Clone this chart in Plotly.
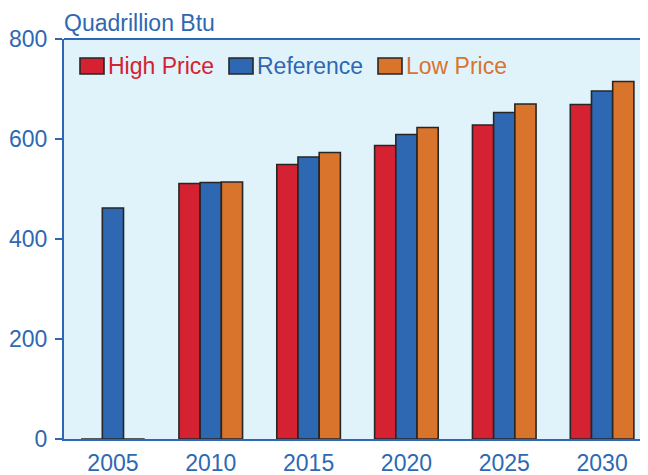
import plotly.graph_objects as go

years = ["2005", "2010", "2015", "2020", "2025", "2030"]
high_price = [0, 511, 549, 587, 628, 669]
reference = [462, 513, 564, 609, 653, 696]
low_price = [0, 514, 573, 623, 670, 715]

series_names = ["High Price", "Reference", "Low Price"]
series_colors = ["#D42232", "#2E68B2", "#D9742C"]
text_blue = "#2E68B2"
font_family = "Liberation Sans, Arial, sans-serif"
fsize = 23

fig = go.Figure()
for name, vals, col in zip(series_names, [high_price, reference, low_price], series_colors):
    fig.add_trace(
        go.Bar(
            x=years,
            y=vals,
            name=name,
            marker=dict(color=col, line=dict(color="#262626", width=1.6)),
            showlegend=False,
        )
    )

# hand-built legend so the swatches come out as wide as the original
# (pixel positions are relative to the window; the page body adds an 8px offset)
legend_x = [80, 229, 378]
plot_left, plot_w, plot_top, plot_h = 64, 587, 39, 400
shapes = []
annotations = []
for lx, name, col in zip(legend_x, series_names, series_colors):
    x0 = (lx - plot_left) / plot_w
    x1 = (lx + 24 - plot_left) / plot_w
    y0 = 1 - (74 - plot_top) / plot_h
    y1 = 1 - (58 - plot_top) / plot_h
    shapes.append(
        dict(type="rect", xref="paper", yref="paper", x0=x0, x1=x1, y0=y0, y1=y1,
             fillcolor=col, line=dict(color="#262626", width=1.6))
    )
    annotations.append(
        dict(text=name, xref="paper", yref="paper", x=(lx + 26 - plot_left) / plot_w,
             y=(y0 + y1) / 2, xanchor="left", yanchor="middle", showarrow=False,
             font=dict(color=col, size=fsize, family=font_family))
    )

annotations.append(
    dict(text="Quadrillion Btu", xref="paper", yref="paper", x=0, y=1,
         xanchor="left", yanchor="bottom", yshift=1, xshift=-2, showarrow=False,
         font=dict(color=text_blue, size=fsize, family=font_family))
)

fig.update_layout(
    width=643,
    height=467,
    margin=dict(l=56, r=0, t=31, b=36),
    barmode="group",
    bargap=0.35,
    bargroupgap=0,
    plot_bgcolor="#E1F3FA",
    paper_bgcolor="white",
    font=dict(family=font_family, size=fsize, color=text_blue),
    shapes=shapes,
    annotations=annotations,
    xaxis=dict(
        showline=True, linecolor=text_blue, linewidth=2, mirror=False,
        ticks="", showgrid=False, ticklabelstandoff=2,
        tickfont=dict(size=fsize, color=text_blue),
    ),
    yaxis=dict(
        range=[0, 800], tickvals=[0, 200, 400, 600, 800],
        showline=True, linecolor=text_blue, linewidth=2,
        ticks="outside", ticklen=7, tickcolor=text_blue, tickwidth=1.5,
        showgrid=False, zeroline=False, ticklabelstandoff=3,
        tickfont=dict(size=fsize, color=text_blue),
    ),
)
# top border line of the plot area
fig.add_shape(type="line", xref="paper", yref="paper", x0=0, x1=1, y0=1, y1=1,
              line=dict(color=text_blue, width=2))

fig.write_html("out.html")
